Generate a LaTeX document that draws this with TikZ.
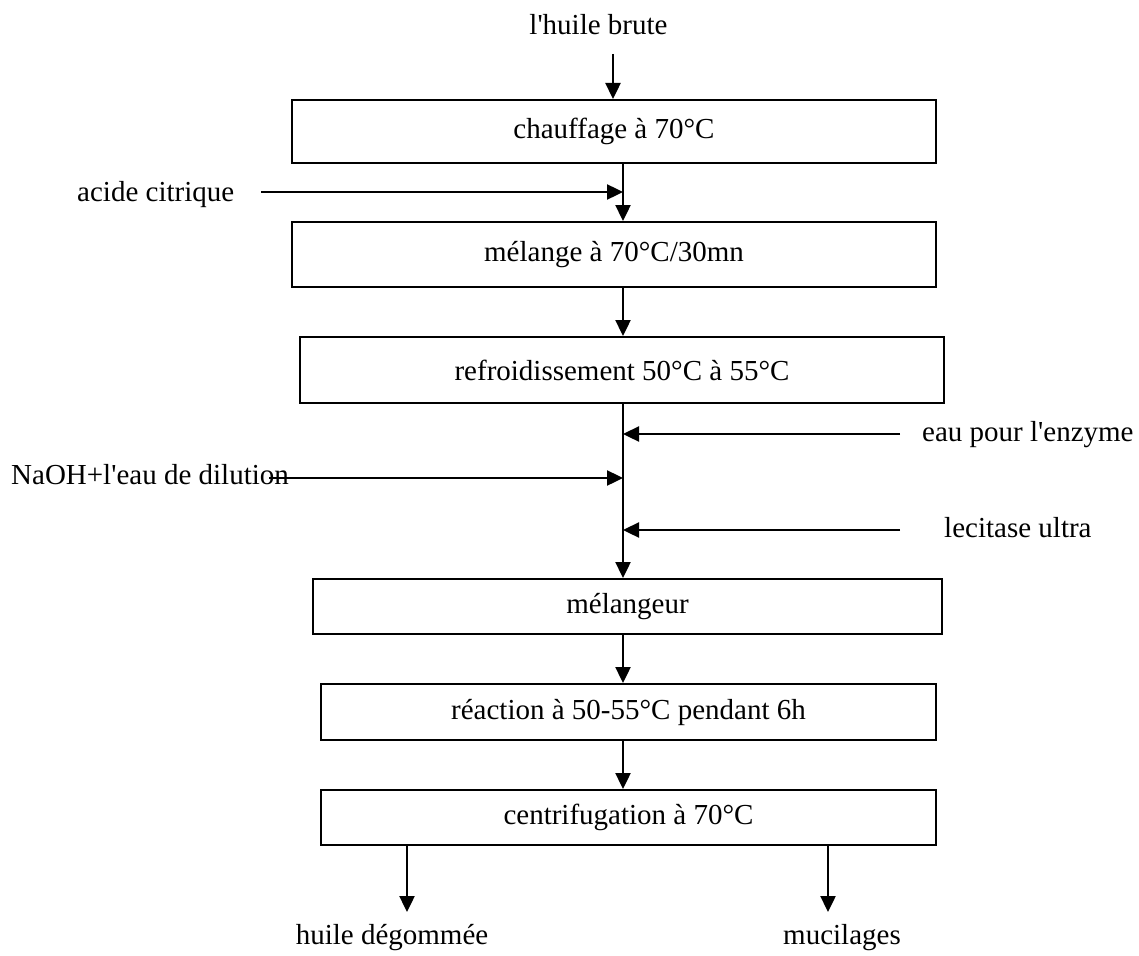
\documentclass[tikz,border=0pt]{standalone}
\usepackage{fontspec}
\setmainfont{Liberation Serif}[Ligatures=TeXOff]
\usepackage{tikz}
\usetikzlibrary{arrows.meta, calc, positioning}
\tikzstyle{block} = [rectangle, line width=2pt, inner sep=0pt, text centered, draw=black]
\tikzstyle{flux} = [inner sep=0pt]
\tikzstyle{arrow} = [line width=2.4pt, -{Triangle[length=16pt, width=15pt]}]

\begin{document}
\begin{tikzpicture}[x=1pt, y=-1pt, font=\fontsize{29}{34}\selectfont]
		\useasboundingbox (0,0) rectangle (1139,955);
		\coordinate (Axe) at (623,0);
		\node (Brute) [flux, anchor=base] at (598.5,35) {l'huile brute};
		\node (Chauffage) [block, minimum width=644pt, minimum height=63pt] at (614,131.5) {chauffage à 70°C};
		\node (Acide) [flux, anchor=base west] at (77,201) {acide citrique};
		\node (Melange) [block, minimum width=644pt, minimum height=65pt] at (614,254.5) {mélange à 70°C/30mn};
		\node (Refroid) [block, minimum width=644pt, minimum height=66pt] at (622,370) {refroidissement 50°C à 55°C};
		\node (Eau) [flux, anchor=base west] at (922,441) {eau pour l'enzyme};
		\node (NaOH) [flux, anchor=base west] at (11,484) {NaOH+l'eau de dilution};
		\node (Lecitase) [flux, anchor=base west] at (944,537) {lecitase ultra};
		\node (Melangeur) [block, minimum width=629pt, minimum height=55pt] at (627.5,606.5) {mélangeur};
		\node (Reaction) [block, minimum width=615pt, minimum height=56pt] at (628.5,712) {réaction à 50-55°C pendant 6h};
		\node (Centrif) [block, minimum width=615pt, minimum height=55pt] at (628.5,817.5) {centrifugation à 70°C};
		\node (Huile) [flux, anchor=base] at (392,944) {huile dégommée};
		\node (Mucilages) [flux, anchor=base] at (842,944) {mucilages};
		% free ends of the side arrows
		\coordinate (BruteIn) at (613,54);
		\coordinate (AcideIn) at (261,192);
		\coordinate (EauIn) at (900,434);
		\coordinate (NaOHIn) at (269,478);
		\coordinate (LecitaseIn) at (900,530);
		\coordinate (HuileOut) at (407,912);
		\coordinate (MucilOut) at (828,912);
		\draw [arrow] (BruteIn) -- (BruteIn |- Chauffage.north);
		\draw [arrow] (Chauffage.south -| Axe) -- (Melange.north -| Axe);
		\draw [arrow] (AcideIn) -- (AcideIn -| Axe);
		\draw [arrow] (Melange.south -| Axe) -- (Refroid.north -| Axe);
		\draw [arrow] (Refroid.south -| Axe) -- (Melangeur.north -| Axe);
		\draw [arrow] (EauIn) -- (EauIn -| Axe);
		\draw [arrow] (NaOHIn) -- (NaOHIn -| Axe);
		\draw [arrow] (LecitaseIn) -- (LecitaseIn -| Axe);
		\draw [arrow] (Melangeur.south -| Axe) -- (Reaction.north -| Axe);
		\draw [arrow] (Reaction.south -| Axe) -- (Centrif.north -| Axe);
		\draw [arrow] (Centrif.south -| HuileOut) -- (HuileOut);
		\draw [arrow] (Centrif.south -| MucilOut) -- (MucilOut);
\end{tikzpicture}
\end{document}
